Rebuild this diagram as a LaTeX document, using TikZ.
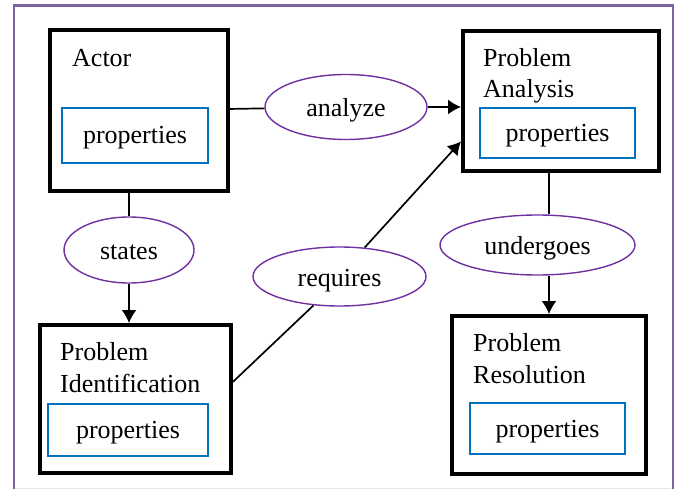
\documentclass[tikz,border=0pt]{standalone}
\usepackage{fontspec}
\setmainfont{Liberation Serif}
\usetikzlibrary{shapes,arrows.meta,positioning}
\definecolor{framepurple}{HTML}{8064A2}
\definecolor{ovalpurple}{HTML}{7030A0}
\definecolor{propblue}{HTML}{0070C0}

\begin{document}
\begin{tikzpicture}[x=1pt, y=-1pt, font=\fontsize{26}{31.5}\selectfont]
\tikzstyle{block} = [rectangle, draw, line width=4pt]
\tikzstyle{title} = [anchor=base west, align=left, inner sep=0pt]
\tikzstyle{props} = [rectangle, draw=propblue, line width=1.5pt, inner sep=0pt,
    text height=23pt, text depth=6pt]
\tikzstyle{verb} = [ellipse, draw=ovalpurple, line width=1.4pt, fill=white, inner sep=0pt,
    text height=25pt, text depth=6pt]
\tikzstyle{link} = [draw, line width=1.7pt]
\tikzstyle{line} = [link, -{Latex[length=13pt,width=15pt]}]

\useasboundingbox (0,0) rectangle (679,489);
\draw [framepurple, line width=2.5pt] (13.8,495) -- (13.8,5.5) -- (673,5.5) -- (673,495);
\draw [black!10, line width=1pt] (15,488) -- (671,488);

\node [block, minimum width=178pt, minimum height=161pt] (actor) at (139,110.5) {};
\node [title] (actor-title) at (72,67) {Actor};
\node [props, minimum width=146pt, minimum height=55pt] (actor-props) at (135,135.5) {properties};

\node [block, minimum width=196pt, minimum height=140pt] (pa) at (561,101) {};
\node [title] (pa-title) at (483,98) {Problem\\Analysis};
\node [props, minimum width=155pt, minimum height=50pt] (pa-props) at (557.5,133) {properties};

\node [block, minimum width=191pt, minimum height=148pt] (pi) at (135.5,399) {};
\node [title] (pi-title) at (60,392) {Problem\\Identification};
\node [props, minimum width=160pt, minimum height=52pt] (pi-props) at (128,430) {properties};

\node [block, minimum width=194pt, minimum height=158pt] (pr) at (549,395) {};
\node [title] (pr-title) at (473,383) {Problem\\Resolution};
\node [props, minimum width=155pt, minimum height=51pt] (pr-props) at (547.5,428.5) {properties};

\node [verb, minimum width=162pt, minimum height=65pt] (analyze) at (346,107) {analyze};
\node [verb, minimum width=130pt, minimum height=66pt] (states) at (129,250) {states};
\node [verb, minimum width=173pt, minimum height=59pt] (requires) at (339.5,276.5) {requires};
\node [verb, minimum width=195pt, minimum height=60pt] (undergoes) at (537.5,245) {undergoes};

\path [link] (actor) -- (analyze);
\path [line] (analyze.east) -- (analyze.east -| pa.west);

\path [link] (actor.south -| states.north) -- (states.north);
\path [line] (states.south) -- (states.south |- pi.north);

\path [link] (pa.south -| pr.north) -- (undergoes.north -| pr.north);
\path [line] (undergoes.south -| pr.north) -- (pr.north);

\path [link] (pi.10) -- (requires.228);
\path [line] (requires.49) -- (pa.202);

\end{tikzpicture}
\end{document}
